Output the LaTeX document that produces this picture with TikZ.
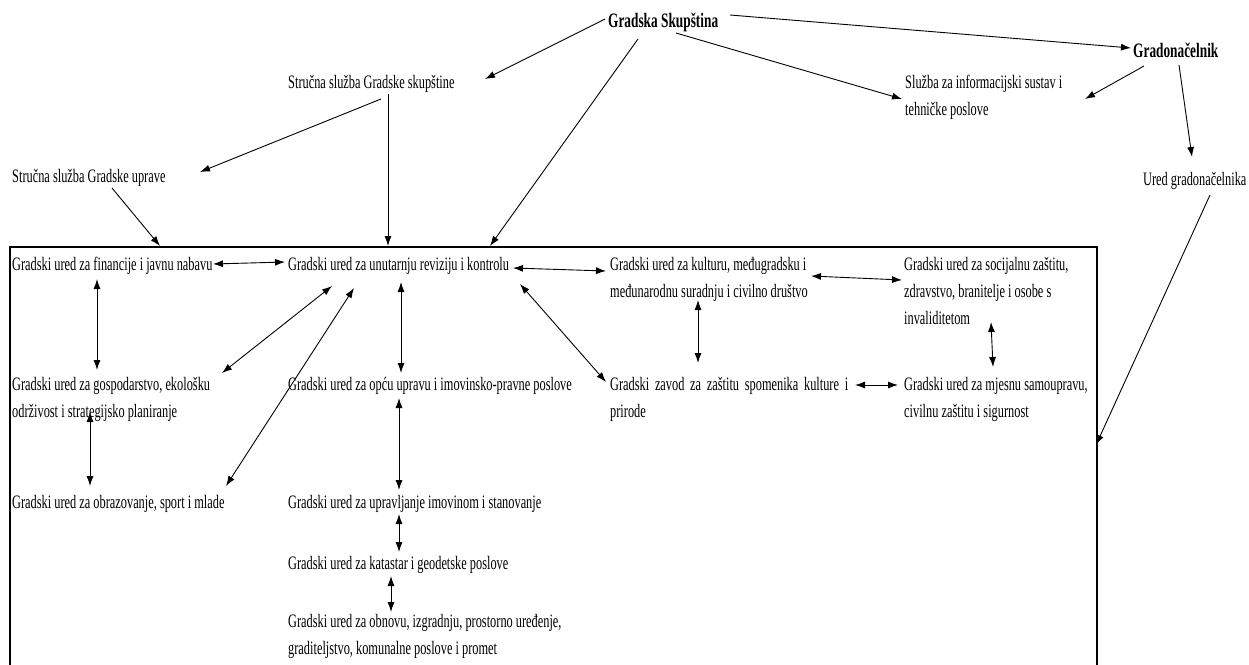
\documentclass[tikz,border=0pt]{standalone}
\usepackage{fontspec}
\setmainfont{Liberation Serif}[FakeStretch=0.65]
\usetikzlibrary{arrows.meta}
\newcommand\mlines[1]{\begin{tabular}[t]{@{}l@{}}#1\end{tabular}}
\begin{document}
\begin{tikzpicture}[x=1pt,y=-1pt,
  txt/.style={inner sep=0pt, anchor=base west, font=\fontsize{19}{27}\selectfont},
  btxt/.style={inner sep=0pt, anchor=base west, font=\fontsize{20.5}{27}\selectfont\bfseries},
  arr/.style={-{Latex[length=10pt,width=7pt]}, line width=0.9pt},
  darr/.style={{Latex[length=10pt,width=7pt]}-{Latex[length=10pt,width=7pt]}, line width=0.9pt},
  frame/.style={line width=1.3pt}]
\useasboundingbox (0,0) rectangle (1249,664);
% frame
\coordinate (rbl) at (10,680);
\coordinate (rtl) at (10,247);
\coordinate (rtr) at (1097,247);
\coordinate (rbr) at (1097,680);
\coordinate (t1) at (160,246);
\coordinate (t2) at (388,246);
\coordinate (t3) at (490,246);
\coordinate (r1) at (1096,445);
\draw[frame] (rbl) -- (rtl) -- (rtr) -- (rbr);
% nodes
\node[btxt] (GS) at (608,27) {Gradska Skupština};
\node[btxt] (GN) at (1133,57) {Gradonačelnik};
\node[txt] (SSGS) at (288,88) {Stručna služba Gradske skupštine};
\node[txt] (SINF) at (905,88) {\mlines{Služba za informacijski sustav i\\tehničke poslove}};
\node[txt] (SSGU) at (12,182) {Stručna služba Gradske uprave};
\node[txt] (UG) at (1143,185) {Ured gradonačelnika};
\node[txt] (FIN) at (12,270) {Gradski ured za financije i javnu nabavu};
\node[txt] (REV) at (288,270) {Gradski ured za unutarnju reviziju i kontrolu};
\node[txt] (KUL) at (610,270) {\mlines{Gradski ured za kulturu, međugradsku i\\međunarodnu suradnju i civilno društvo}};
\node[txt] (SOC) at (904,270) {\mlines{Gradski ured za socijalnu zaštitu,\\zdravstvo, branitelje i osobe s\\invaliditetom}};
\node[txt] (GOS) at (12,390) {\mlines{Gradski ured za gospodarstvo, ekološku\\održivost i strategijsko planiranje}};
\node[txt] (OPC) at (288,390) {Gradski ured za opću upravu i imovinsko-pravne poslove};
\node[txt] (ZAV) at (610,390) {\mlines{\makebox[238pt][s]{Gradski zavod za zaštitu spomenika kulture i}\\prirode}};
\node[txt] (MJE) at (904,390) {\mlines{Gradski ured za mjesnu samoupravu,\\civilnu zaštitu i sigurnost}};
\node[txt] (OBR) at (12,508) {Gradski ured za obrazovanje, sport i mlade};
\node[txt] (UPR) at (288,508) {Gradski ured za upravljanje imovinom i stanovanje};
\node[txt] (KAT) at (288,569) {Gradski ured za katastar i geodetske poslove};
\node[txt] (OBN) at (288,627) {\mlines{Gradski ured za obnovu, izgradnju, prostorno uređenje,\\graditeljstvo, komunalne poslove i promet}};
% top connectors
\draw[arr] ([shift={(-3,-8)}]GS.base west) -- ([shift={(197,-9)}]SSGS.base west);
\draw[arr] ([shift={(30,12)}]GS.base west) -- (t3);
\draw[arr] ([shift={(68,6)}]GS.base west) -- ([shift={(-3,11)}]SINF.base west);
\draw[arr] ([shift={(122,-12)}]GS.base west) -- ([shift={(-2,-9)}]GN.base west);
\draw[arr] ([shift={(11,9)}]GN.base west) -- ([shift={(180,11)}]SINF.base west);
\draw[arr] ([shift={(46,8)}]GN.base west) -- ([shift={(49,-28)}]UG.base west);
\draw[arr] ([shift={(67,10)}]UG.base west) -- (r1);
\draw[arr] ([shift={(93,11)}]SSGS.base west) -- ([shift={(188,-10)}]SSGU.base west);
\draw[arr] ([shift={(100,6)}]SSGS.base west) -- (t2);
\draw[arr] ([shift={(100,6)}]SSGU.base west) -- (t1);
% inner connectors
\draw[darr] ([shift={(201,-6)}]FIN.base west) -- ([shift={(-3,-8)}]REV.base west);
\draw[darr] ([shift={(225,-2)}]REV.base west) -- ([shift={(-4,1)}]KUL.base west);
\draw[darr] ([shift={(201,6)}]KUL.base west) -- ([shift={(-2,10)}]SOC.base west);
\draw[darr] ([shift={(85,9)}]FIN.base west) -- ([shift={(85,-20)}]GOS.base west);
\draw[darr] ([shift={(44,16)}]REV.base west) -- ([shift={(210,-17)}]GOS.base west);
\draw[darr] ([shift={(66,18)}]REV.base west) -- ([shift={(214,-22)}]OBR.base west);
\draw[darr] ([shift={(113,12)}]REV.base west) -- ([shift={(113,-17)}]OPC.base west);
\draw[darr] ([shift={(232,14)}]REV.base west) -- ([shift={(-4,-8)}]ZAV.base west);
\draw[darr] ([shift={(88,30)}]KUL.base west) -- ([shift={(88,-27)}]ZAV.base west);
\draw[darr] ([shift={(87,52)}]SOC.base west) -- ([shift={(89,-23)}]MJE.base west);
\draw[darr] ([shift={(245,-5)}]ZAV.base west) -- ([shift={(-6,-5)}]MJE.base west);
\draw[darr] ([shift={(78,22)}]GOS.base west) -- ([shift={(78,-22)}]OBR.base west);
\draw[darr] ([shift={(111,8)}]OPC.base west) -- ([shift={(111,-18)}]UPR.base west);
\draw[darr] ([shift={(111,6)}]UPR.base west) -- ([shift={(111,-17)}]KAT.base west);
\draw[darr] ([shift={(103,7)}]KAT.base west) -- ([shift={(103,-15)}]OBN.base west);
\end{tikzpicture}
\end{document}
